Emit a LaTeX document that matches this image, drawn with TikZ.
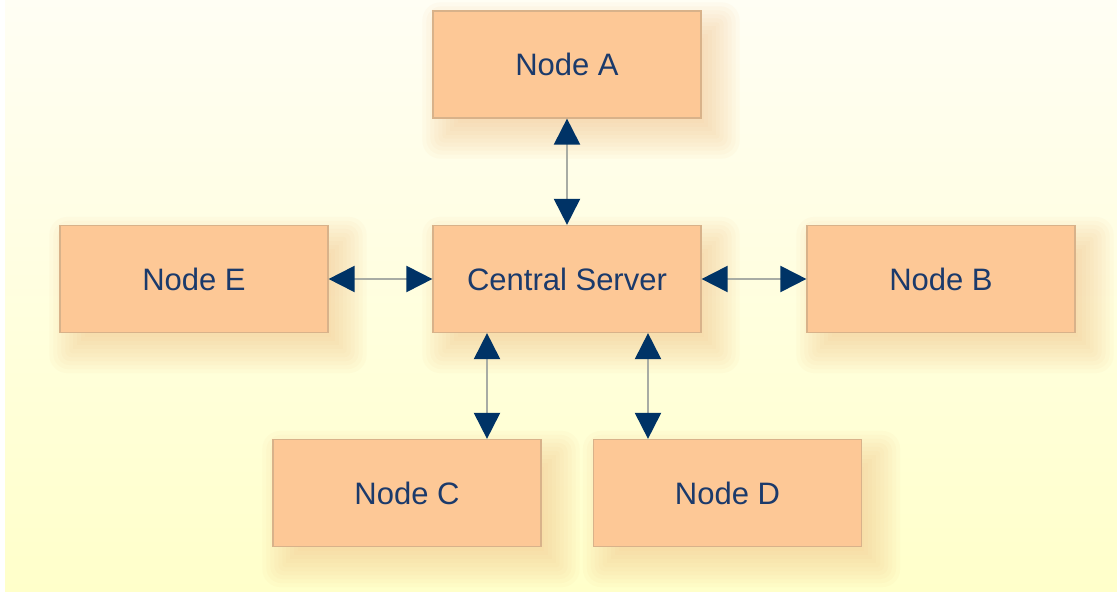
\documentclass[tikz,border=0pt]{standalone}
\usepackage{fontspec}
\setmainfont{Liberation Sans}
\usetikzlibrary{arrows.meta,calc}
\definecolor{boxfill}{HTML}{FDC896}
\definecolor{boxline}{HTML}{D8B28A}
\definecolor{ink}{HTML}{1B3A6B}
\definecolor{tipnavy}{HTML}{003366}
\definecolor{wire}{HTML}{A8ACA4}
\definecolor{glow}{HTML}{F7BE80}
\definecolor{papertop}{HTML}{FFFEF4}
\definecolor{paperbottom}{HTML}{FFFFCA}
\pgfdeclarelayer{paper}
\pgfdeclarelayer{glowlayer}
\pgfsetlayers{paper,glowlayer,main}
\begin{document}
\begin{tikzpicture}[x=1pt,y=-1pt,
  unit/.style={draw=boxline, line width=1.2pt, fill=boxfill,
    minimum width=268pt, minimum height=107pt, inner sep=0pt,
    text=ink, font=\fontsize{31}{36}\selectfont},
  link/.style={draw=wire, line width=2pt, {Triangle[length=26pt,width=26pt,color=tipnavy]}-{Triangle[length=26pt,width=26pt,color=tipnavy]}}]

\useasboundingbox (0,0) rectangle (1117,593);

% boxes
\node[unit] (A)       at (567,64.5)  {Node A};
\node[unit] (Central) at (567,279)   {Central Server};
\node[unit] (E)       at (194,279)   {Node E};
\node[unit] (B)       at (941,279)   {Node B};
\node[unit] (C)       at (407,493)   {Node C};
\node[unit] (D)       at (727.5,493) {Node D};

% anchor points of the two lower links
\coordinate (cTop) at ([xshift=80pt]C.north);
\coordinate (dTop) at ([xshift=-79.5pt]D.north);

% links
\draw[link] (A.south) -- (Central.north);
\draw[link] (E.east) -- (Central.west);
\draw[link] (Central.east) -- (B.west);
\draw[link] (cTop |- Central.south) -- (cTop);
\draw[link] (dTop |- Central.south) -- (dTop);

% soft glow behind boxes: stacked translucent rectangles
\begin{pgfonlayer}{glowlayer}
  \foreach \n in {A,Central,E,B,C,D}{
    \foreach \k in {-8,-6,...,12}{
      \fill[glow, opacity=0.06, rounded corners={max(\k,0)*1.5pt}]
        ($(\n.north west)+(14-\k*2,16-\k*2)$) rectangle
        ($(\n.south east)+(14+\k*2,16+\k*2)$);
    }
  }
\end{pgfonlayer}

% paper
\begin{pgfonlayer}{paper}
  \fill[white] (0,0) rectangle (1117,593);
  \fill[top color=papertop, bottom color=paperbottom] (5,0) rectangle (1117,591);
\end{pgfonlayer}
\end{tikzpicture}
\end{document}
